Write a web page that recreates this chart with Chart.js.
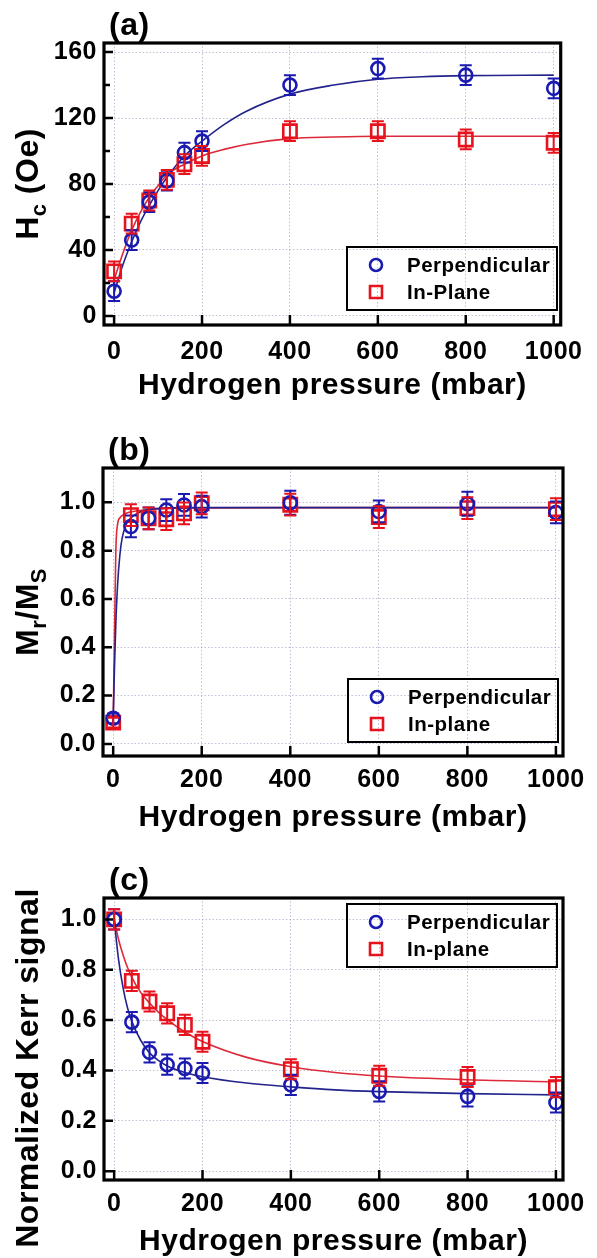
<!DOCTYPE html>
<html>
<head>
<meta charset="utf-8">
<script src="https://cdn.jsdelivr.net/npm/chart.js@4.4.1/dist/chart.umd.min.js"></script>
<style>
  body { margin: 0; background: #fff; }
  canvas { position: absolute; left: 0; }
</style>
</head>
<body>
<canvas id="chart-a" width="597" height="420" style="top:0px"></canvas>
<canvas id="chart-b" width="597" height="425" style="top:420px"></canvas>
<canvas id="chart-c" width="597" height="413" style="top:845px"></canvas>
<script>
// hydrogen pressure (mbar), same for all panels
const pressure = [0, 40, 80, 120, 160, 200, 400, 600, 800, 1000];
const xTicks = [0, 200, 400, 600, 800, 1000];

// (a) coercive field Hc (Oe)
const hcPerp = [15, 46, 69, 82, 99, 106, 140, 150, 146, 138];
const hcPerpErr = [6, 6, 6, 6, 6, 6, 6, 6, 6, 6];
const hcPlane = [27, 56, 70, 82.5, 92, 97, 112, 112, 107, 105];
const hcPlaneErr = [6, 6, 6, 6, 6, 6, 6, 6, 6, 6];
const hcFitX = [0, 20, 40, 60, 80, 100, 120, 160, 200, 250, 300, 400, 500, 600, 700, 800, 1000];
const hcFitPerp = [14, 31, 45, 57, 67, 76, 84, 97, 106, 116, 124, 134.5, 140, 143.5, 145, 145.7, 146];
const hcFitPlane = [22, 38, 52, 63, 72, 79, 85.5, 92, 97, 101, 104, 107.5, 108.5, 109, 109, 109, 109];
const hcTicks = [0, 40, 80, 120, 160];
const hcMinor = [20, 60, 100, 140];

// (b) squareness Mr/Ms
const mrPerp = [0.106, 0.90, 0.934, 0.968, 0.989, 0.982, 0.998, 0.962, 0.994, 0.958];
const mrPerpErr = [0.02, 0.045, 0.045, 0.045, 0.045, 0.045, 0.05, 0.045, 0.05, 0.045];
const mrPlane = [0.088, 0.947, 0.934, 0.93, 0.954, 0.996, 0.99, 0.939, 0.976, 0.972];
const mrPlaneErr = [0.02, 0.045, 0.045, 0.045, 0.045, 0.045, 0.045, 0.045, 0.045, 0.045];
const mrFitX = [0, 3, 6, 10, 15, 20, 30, 40, 60, 80, 120, 200, 400, 1000];
const mrFitPerp = [0.10, 0.32, 0.50, 0.66, 0.78, 0.85, 0.91, 0.935, 0.96, 0.97, 0.976, 0.978, 0.978, 0.978];
const mrFitPlane = [0.085, 0.45, 0.80, 0.91, 0.935, 0.945, 0.955, 0.96, 0.966, 0.97, 0.975, 0.977, 0.978, 0.978];
const ratioTicks = [0, 0.2, 0.4, 0.6, 0.8, 1.0];

// (c) normalized Kerr signal
const kerrPerp = [1.0, 0.592, 0.472, 0.423, 0.408, 0.39, 0.343, 0.317, 0.297, 0.273];
const kerrPerpErr = [0.04, 0.04, 0.04, 0.04, 0.04, 0.04, 0.04, 0.04, 0.04, 0.04];
const kerrPlane = [1.0, 0.756, 0.674, 0.627, 0.581, 0.514, 0.405, 0.379, 0.374, 0.334];
const kerrPlaneErr = [0.04, 0.04, 0.04, 0.04, 0.04, 0.04, 0.04, 0.04, 0.04, 0.04];
const kerrFitX = [0, 10, 20, 30, 40, 60, 80, 100, 120, 160, 200, 300, 400, 500, 600, 800, 1000];
const kerrFitPerp = [1.0, 0.84, 0.73, 0.65, 0.595, 0.52, 0.47, 0.44, 0.418, 0.392, 0.375, 0.35, 0.335, 0.323, 0.316, 0.308, 0.303];
const kerrFitPlane = [1.0, 0.92, 0.86, 0.81, 0.77, 0.71, 0.668, 0.632, 0.602, 0.553, 0.515, 0.452, 0.415, 0.392, 0.378, 0.363, 0.355];

const BLUE = '#1a1ab0', BLUE_LINE = '#23238c';
const RED = '#e6121c', RED_LINE = '#dc2a3a';
const FONT = '"Liberation Sans", Arial, sans-serif';

const toPts = (xs, ys) => xs.map((x, i) => ({ x: x, y: ys[i] }));

// frame, inward ticks, panel label, y title with subscripts, legend box, error bars
const decor = {
    id: 'decor',
    beforeDraw(chart) {
        chart.ctx.letterSpacing = '0.5px';
    },
    afterDatasetsDraw(chart) {
        const ctx = chart.ctx, xs = chart.scales.x, ys = chart.scales.y;
        chart.data.datasets.forEach(ds => {
            if (!ds.yErr) return;
            ctx.save();
            ctx.strokeStyle = ds.borderColor;
            ctx.lineWidth = 2;
            ctx.beginPath();
            ds.data.forEach((p, i) => {
                const px = xs.getPixelForValue(p.x);
                const top = ys.getPixelForValue(p.y + ds.yErr[i]);
                const bot = ys.getPixelForValue(p.y - ds.yErr[i]);
                ctx.moveTo(px, top); ctx.lineTo(px, bot);
                ctx.moveTo(px - 6, top); ctx.lineTo(px + 6, top);
                ctx.moveTo(px - 6, bot); ctx.lineTo(px + 6, bot);
            });
            ctx.stroke();
            ctx.restore();
        });
    },
    afterDraw(chart, args, opts) {
        const ctx = chart.ctx, a = chart.chartArea, xs = chart.scales.x, ys = chart.scales.y;
        ctx.save();
        ctx.strokeStyle = '#000';
        ctx.fillStyle = '#000';

        ctx.lineWidth = 2.5;
        ctx.beginPath();
        xs.ticks.forEach(t => {
            const px = xs.getPixelForValue(t.value);
            ctx.moveTo(px, a.bottom); ctx.lineTo(px, a.bottom - 10);
        });
        ys.ticks.forEach(t => {
            const py = ys.getPixelForValue(t.value);
            ctx.moveTo(a.left, py); ctx.lineTo(a.left + 9, py);
        });
        (opts.minorY || []).forEach(v => {
            const py = ys.getPixelForValue(v);
            ctx.moveTo(a.left, py); ctx.lineTo(a.left + 6, py);
        });
        ctx.stroke();

        ctx.lineWidth = 3.2;
        ctx.strokeRect(a.left, a.top, a.right - a.left, a.bottom - a.top);

        // panel label
        ctx.font = 'bold 32px ' + FONT;
        ctx.textAlign = 'left';
        ctx.textBaseline = 'alphabetic';
        ctx.fillText(opts.label, a.left + 5, a.top - 8);

        // rotated y title
        const size = 32, subSize = 22;
        ctx.save();
        ctx.translate(opts.titleX, opts.titleY);
        ctx.rotate(-Math.PI / 2);
        let w = 0;
        opts.yTitle.forEach(p => {
            ctx.font = 'bold ' + (p.sub ? subSize : size) + 'px ' + FONT;
            p.w = ctx.measureText(p.t).width;
            w += p.w;
        });
        let tx = -w / 2;
        opts.yTitle.forEach(p => {
            ctx.font = 'bold ' + (p.sub ? subSize : size) + 'px ' + FONT;
            ctx.fillText(p.t, tx, p.sub ? 8 : 0);
            tx += p.w;
        });
        ctx.restore();

        // legend
        const L = opts.legend;
        ctx.lineWidth = 2;
        ctx.strokeRect(L.x, L.y, L.w, L.h);
        ctx.font = 'bold 20.5px ' + FONT;
        ctx.textBaseline = 'middle';
        chart.data.datasets.filter(ds => ds.yErr).forEach((ds, i) => {
            const cy = L.y + 18 + i * 27, cx = L.x + 29;
            ctx.strokeStyle = ds.borderColor;
            ctx.lineWidth = 2.6;
            ctx.beginPath();
            if (ds.pointStyle === 'circle') ctx.arc(cx, cy, 6, 0, Math.PI * 2);
            else ctx.rect(cx - 6, cy - 6, 12, 12);
            ctx.stroke();
            ctx.fillText(ds.label, L.x + 60, cy + 1);
        });
        ctx.restore();
    }
};

function makeChart(id, p) {
    const tickFont = { family: FONT, size: 25, weight: 'bold', lineHeight: 1 };
    const grid = { color: 'rgba(150,150,185,0.6)', lineWidth: 1, drawTicks: false };
    return new Chart(document.getElementById(id), {
        type: 'scatter',
        data: {
            datasets: [
                { label: 'Perpendicular', data: toPts(pressure, p.perp), yErr: p.perpErr,
                  pointStyle: 'circle', pointRadius: 6.5, borderColor: BLUE, backgroundColor: 'transparent',
                  borderWidth: 2.6, showLine: false },
                { label: p.planeLabel, data: toPts(pressure, p.plane), yErr: p.planeErr,
                  pointStyle: 'rect', pointRadius: 9.4, borderColor: RED, backgroundColor: 'transparent',
                  borderWidth: 2.6, showLine: false },
                { label: 'fit perp', data: toPts(p.fitX, p.fitPerp), showLine: true, pointRadius: 0,
                  borderColor: BLUE_LINE, borderWidth: 1.6, cubicInterpolationMode: 'monotone' },
                { label: 'fit plane', data: toPts(p.fitX, p.fitPlane), showLine: true, pointRadius: 0,
                  borderColor: RED_LINE, borderWidth: 1.6, cubicInterpolationMode: 'monotone' }
            ]
        },
        options: {
            responsive: false,
            animation: false,
            devicePixelRatio: 1,
            events: [],
            layout: { padding: { top: p.top, right: 34, bottom: 0, left: 0 } },
            plugins: {
                legend: { display: false },
                tooltip: { enabled: false },
                decor: p.decor
            },
            scales: {
                x: {
                    type: 'linear', min: -23, max: 1016,
                    afterBuildTicks: s => { s.ticks = xTicks.map(v => ({ value: v })); },
                    afterFit: s => { s.height = p.xHeight; },
                    grid: grid,
                    border: { display: false, dash: [1.5, 2] },
                    ticks: { color: '#000', font: tickFont, padding: p.xPad, maxRotation: 0,
                             callback: v => String(v) },
                    title: { display: true, text: 'Hydrogen pressure (mbar)', color: '#000',
                             font: { family: FONT, size: 30, weight: 'bold', lineHeight: 1 },
                             padding: { top: 0, bottom: p.titlePad } }
                },
                y: {
                    type: 'linear', min: p.yMin, max: p.yMax,
                    afterBuildTicks: s => { s.ticks = p.yTicks.map(v => ({ value: v })); },
                    afterFit: s => { s.width = p.left; },
                    grid: grid,
                    border: { display: false, dash: [1.5, 2] },
                    ticks: { color: '#000', font: tickFont, padding: 7, callback: p.fmt }
                }
            }
        },
        plugins: [decor]
    });
}

makeChart('chart-a', {
    perp: hcPerp, perpErr: hcPerpErr, plane: hcPlane, planeErr: hcPlaneErr, planeLabel: 'In-Plane',
    fitX: hcFitX, fitPerp: hcFitPerp, fitPlane: hcFitPlane,
    yMin: -5.5, yMax: 165.5, yTicks: hcTicks, fmt: v => String(v),
    top: 43, left: 104, xHeight: 95, xPad: 15, titlePad: 19,
    decor: { label: '(a)', minorY: hcMinor, titleX: 38, titleY: 184,
             yTitle: [{ t: 'H' }, { t: 'c', sub: true }, { t: ' (Oe)' }],
             legend: { x: 347, y: 247, w: 210, h: 63 } }
});

makeChart('chart-b', {
    perp: mrPerp, perpErr: mrPerpErr, plane: mrPlane, planeErr: mrPlaneErr, planeLabel: 'In-plane',
    fitX: mrFitX, fitPerp: mrFitPerp, fitPlane: mrFitPlane,
    yMin: -0.05, yMax: 1.142, yTicks: ratioTicks, fmt: v => v.toFixed(1),
    top: 48, left: 103, xHeight: 89, xPad: 12, titlePad: 12,
    decor: { label: '(b)', titleX: 38, titleY: 192,
             yTitle: [{ t: 'M' }, { t: 'r', sub: true }, { t: '/M' }, { t: 'S', sub: true }],
             legend: { x: 348, y: 259, w: 210, h: 63 } }
});

makeChart('chart-c', {
    perp: kerrPerp, perpErr: kerrPerpErr, plane: kerrPlane, planeErr: kerrPlaneErr, planeLabel: 'In-plane',
    fitX: kerrFitX, fitPerp: kerrFitPerp, fitPlane: kerrFitPlane,
    yMin: -0.035, yMax: 1.085, yTicks: ratioTicks, fmt: v => v.toFixed(1),
    top: 53, left: 104, xHeight: 78, xPad: 12, titlePad: 1,
    decor: { label: '(c)', titleX: 38, titleY: 223,
             yTitle: [{ t: 'Normalized Kerr signal' }],
             legend: { x: 347, y: 59, w: 210, h: 63 } }
});
</script>
</body>
</html>
